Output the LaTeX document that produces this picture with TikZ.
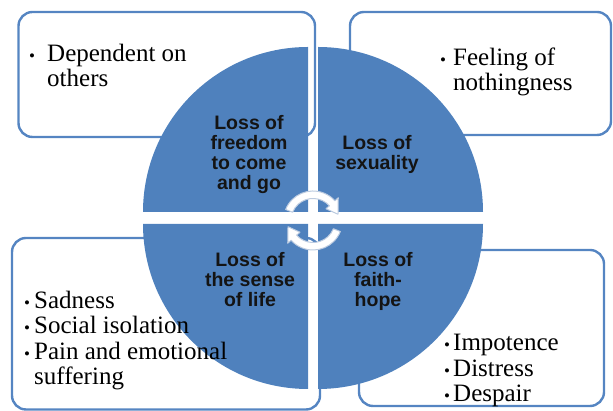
\documentclass[tikz,border=0pt]{standalone}
\usepackage{fontspec}
\setmainfont{Liberation Serif}
\newfontfamily\lossfamily{Liberation Sans}
\usetikzlibrary{calc,positioning}
\definecolor{quadblue}{HTML}{4F81BD}
\definecolor{boxblue}{HTML}{5585C2}
\definecolor{arrowrim}{HTML}{BCCBE0}
\definecolor{lossink}{HTML}{141414}
\newcommand\bul[1]{\makebox[#1pt][l]{\fontsize{17}{17}\selectfont\textbullet}}

\begin{document}
\begin{tikzpicture}
[x=1pt,y=1pt,
 box/.style={draw=boxblue,line width=2.4pt,rounded corners=14pt},
 quad/.style={fill=quadblue},
 item/.style={anchor=base west,inner sep=0pt,align=left,font=\fontsize{25}{25.5}\selectfont},
 loss/.style={anchor=base,inner sep=0pt,align=center,text=lossink,font=\lossfamily\bfseries\fontsize{19.5}{20.3}\selectfont},
 turn/.style={fill=white,draw=arrowrim,line width=1pt,line join=round},]

\useasboundingbox (0,0) rectangle (613,411);

%Circle values
\def\r{165}

%Corner boxes
\draw[box] (18.5,274) rectangle (315,399);
\draw[box] (350,276) rectangle (611,399);
\draw[box] (12,1.5) rectangle (320,173);
\draw[box] (359,5) rectangle (604,161);

%Quadrant corners
\coordinate (TL) at (308,199);
\coordinate (TR) at (318,199);
\coordinate (BL) at (308,187);
\coordinate (BR) at (318,187);

%Drawing quadrants
\fill[quad] (TL) -- ++(-\r,0) arc[start angle=180,end angle=90,radius=\r] -- cycle;
\fill[quad] (TR) -- ++(0,\r) arc[start angle=90,end angle=0,radius=\r] -- cycle;
\fill[quad] (BL) -- ++(0,-\r) arc[start angle=270,end angle=180,radius=\r] -- cycle;
\fill[quad] (BR) -- ++(\r,0) arc[start angle=0,end angle=-90,radius=\r] -- cycle;

%Turning arrows
\coordinate (O) at (313,190.5);
\foreach \t in {0,180}
  \draw[turn,shift={(O)},rotate=\t] (158:29.5) arc[start angle=158,end angle=42,radius=29.5]
    -- (42:34) -- (14:25.75) -- (42:17.5) -- (42:22) arc[start angle=42,end angle=158,radius=22] -- cycle;

%Quadrant labels (base = last line)
\node[loss] (freedom) at (249,221) {Loss of\\freedom\\to come\\and go};
\node[loss] (sexuality) at (377,241) {Loss of\\sexuality};
\node[loss] (sense) at (250,104) {Loss of\\the sense\\of life};
\node[loss] (faith) at (378,104) {Loss of\\faith-\\hope};

%Box items
\node[item] (dependent) at (29,324) {\bul{18}Dependent on\\\hspace*{18pt}others};
\node[item] (nothing) at (440,320) {\bul{13}Feeling of\\\hspace*{13pt}nothingness};
\node[item] (sadness) at (24,26) {\bul{10}Sadness\\\bul{10}Social isolation\\\bul{10}Pain and emotional\\\hspace*{10pt}suffering};
\node[item] (impotence) at (444,9) {\bul{9}Impotence\\\bul{9}Distress\\\bul{9}Despair};

\end{tikzpicture}
\end{document}
